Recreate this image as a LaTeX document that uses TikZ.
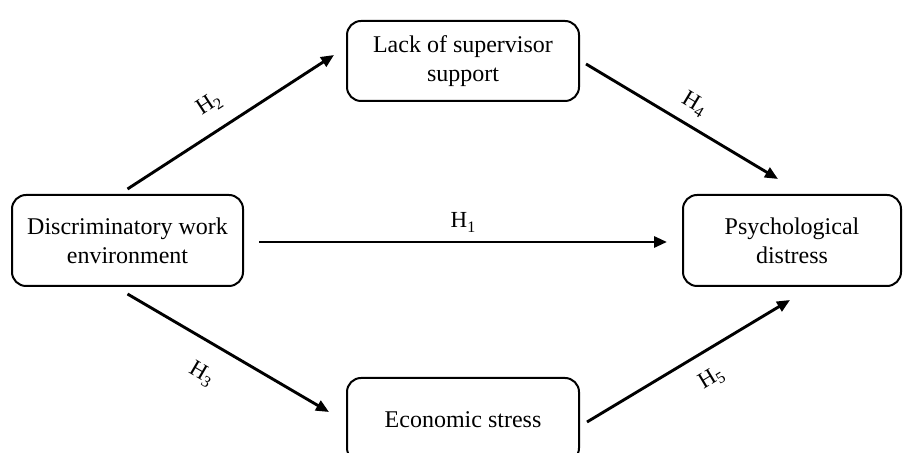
\documentclass[tikz,border=0pt]{standalone}
\usepackage{fontspec}
\setmainfont{Liberation Serif}
\usetikzlibrary{arrows.meta}
\newcommand{\hyp}[1]{H\raisebox{-0.18em}{\fontsize{8}{8}\selectfont #1}}
\begin{document}
\begin{tikzpicture}[x=0.5pt,y=-0.5pt,
 box/.style={draw, line width=1pt, rounded corners=7pt, align=center, font=\fontsize{12}{14.5}\selectfont, inner sep=0pt},
 arr/.style={line width=1.45pt, -{Triangle[length=6.5pt,width=5.5pt]}},
 lab/.style={sloped, inner sep=0pt, text height=7.5pt, text depth=1.5pt, font=\fontsize{11.5}{12}\selectfont}]
\useasboundingbox (0,0) rectangle (904,453);
\clip (0,0) rectangle (904,453);
\node[box, minimum width=115.5pt, minimum height=45.5pt] (dwe) at (127.5,240.5) {Discriminatory work\\environment};
\node[box, minimum width=116pt, minimum height=40pt] (sup) at (463,61) {Lack of supervisor\\support};
\node[box, minimum width=116pt, minimum height=42pt] (es) at (463,420) {Economic stress};
\node[box, minimum width=109pt, minimum height=45.5pt] (pd) at (792,240.5) {Psychological\\distress};
\draw[arr] ([yshift=2.5pt]dwe.north) -- ([xshift=-6pt,yshift=3pt]sup.west)
  node[lab, pos=0.465, anchor=south, outer sep=9pt] {\hyp{2}};
\draw[arr] ([xshift=3pt,yshift=-1.5pt]sup.east) -- ([xshift=-7pt,yshift=7.5pt]pd.north)
  node[lab, pos=0.505, anchor=south, outer sep=6.5pt] {\hyp{4}};
\draw[arr] ([xshift=7.5pt,yshift=-0.75pt]dwe.east) -- ([xshift=-7.5pt,yshift=-0.75pt]pd.west)
  node[lab, pos=0.5, anchor=south, outer sep=5.5pt] {\hyp{1}};
\draw[arr] ([yshift=-3.5pt]dwe.south) -- ([xshift=-8.5pt,yshift=4pt]es.west)
  node[lab, pos=0.445, anchor=north, outer sep=11pt] {\hyp{3}};
\draw[arr] ([xshift=3.5pt,yshift=-1pt]es.east) -- ([xshift=-1pt,yshift=-6.5pt]pd.south)
  node[lab, pos=0.545, anchor=north, outer sep=8.5pt] {\hyp{5}};
\end{tikzpicture}
\end{document}
